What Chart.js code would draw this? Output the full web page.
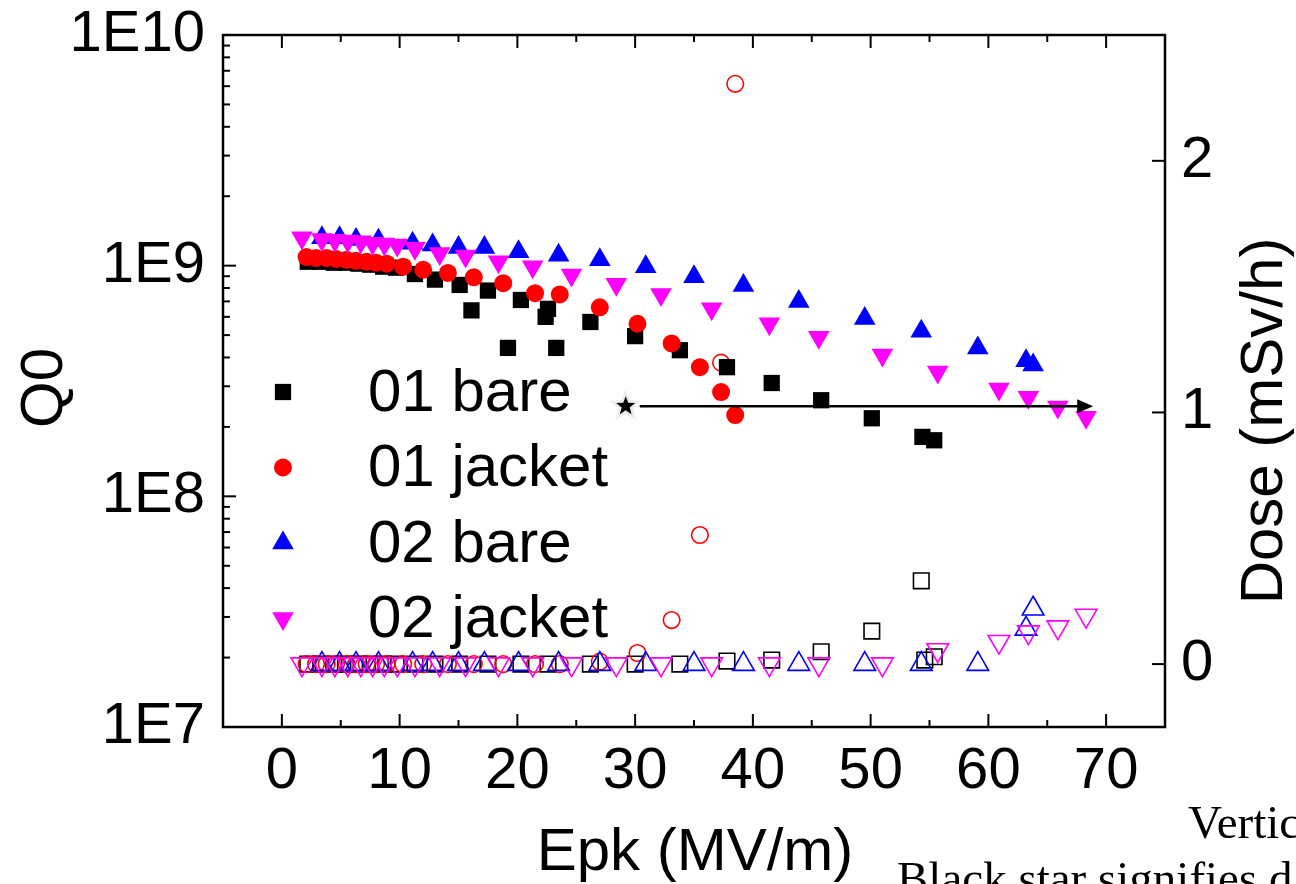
<!DOCTYPE html>
<html lang="en">

<head>
    <meta charset="UTF-8">
    <title>Q0 and Dose vs Epk</title>
    <style>
        html,
        body {
            margin: 0;
            padding: 0;
            background: #fff;
            overflow: hidden;
        }

        .container {
            position: relative;
            width: 1296px;
            height: 884px;
        }
    </style>
    <script src="https://cdn.jsdelivr.net/npm/chart.js"></script>
</head>

<body>
    <div class="container">
        <canvas id="myChart"></canvas>
    </div>

    <script>
        // Q0 curves (left axis, log)
        const bare01Epk = [2.2, 3.3, 4.4, 5.4, 6.5, 7.5, 8.6, 9.7, 11.3, 13.0, 15.1, 16.1, 17.5, 19.2, 20.3, 22.4, 22.6, 23.3, 26.2, 30.0, 33.8, 37.8, 41.6, 45.8, 50.1, 54.4, 55.4];
        const bare01Q0 = [1.04e9, 1.04e9, 1.03e9, 1.03e9, 1.02e9, 1.01e9, 9.9e8, 9.8e8, 9.2e8, 8.7e8, 8.25e8, 6.4e8, 7.8e8, 4.4e8, 7.1e8, 6.0e8, 6.5e8, 4.4e8, 5.7e8, 4.95e8, 4.3e8, 3.63e8, 3.1e8, 2.61e8, 2.18e8, 1.81e8, 1.75e8];

        const jacket01Epk = [2.1, 2.9, 3.8, 4.6, 5.5, 6.3, 7.2, 8.0, 8.9, 10.3, 12.0, 14.1, 16.3, 18.8, 21.5, 23.6, 27.0, 30.2, 33.1, 35.5, 37.3, 38.5];
        const jacket01Q0 = [1.09e9, 1.08e9, 1.08e9, 1.07e9, 1.06e9, 1.05e9, 1.04e9, 1.03e9, 1.02e9, 9.9e8, 9.6e8, 9.3e8, 8.9e8, 8.4e8, 7.6e8, 7.5e8, 6.6e8, 5.6e8, 4.6e8, 3.63e8, 2.83e8, 2.25e8];

        const bare02Epk = [3.4, 4.9, 6.3, 8.2, 11.1, 12.8, 15.0, 17.2, 20.1, 23.5, 27.0, 30.9, 35.0, 39.2, 43.9, 49.5, 54.3, 59.1, 63.2, 63.8];
        const bare02Q0 = [1.32e9, 1.32e9, 1.30e9, 1.29e9, 1.25e9, 1.23e9, 1.20e9, 1.20e9, 1.15e9, 1.11e9, 1.06e9, 9.9e8, 8.95e8, 8.2e8, 7.0e8, 5.9e8, 5.2e8, 4.4e8, 3.87e8, 3.71e8];

        const jacket02Epk = [1.7, 3.4, 4.5, 5.6, 6.7, 7.7, 8.7, 9.8, 11.3, 13.4, 15.6, 18.4, 21.3, 24.6, 28.4, 32.2, 36.5, 41.4, 45.6, 51.0, 55.7, 60.9, 63.4, 65.9, 68.3];
        const jacket02Q0 = [1.32e9, 1.30e9, 1.29e9, 1.28e9, 1.27e9, 1.25e9, 1.24e9, 1.23e9, 1.19e9, 1.13e9, 1.10e9, 1.04e9, 9.9e8, 9.1e8, 8.3e8, 7.5e8, 6.5e8, 5.6e8, 4.9e8, 4.1e8, 3.46e8, 2.92e8, 2.69e8, 2.44e8, 2.20e8];

        // Dose curves (right axis, open markers)
        const bare01DoseEpk = [2.2, 3.3, 4.4, 5.4, 6.5, 7.5, 8.6, 9.7, 11.3, 13.0, 15.1, 17.5, 20.3, 22.6, 26.2, 30.0, 33.8, 37.8, 41.6, 45.8, 50.1, 54.3, 54.6, 55.4];
        const bare01Dose = [0, 0, 0, 0, 0, 0, 0, 0, 0, 0, 0, 0, 0, 0, 0, 0, 0, 0.012, 0.016, 0.049, 0.131, 0.331, 0.016, 0.029];

        const jacket01DoseEpk = jacket01Epk;
        const jacket01Dose = [0, 0, 0, 0, 0, 0, 0, 0, 0, 0, 0, 0, 0, 0, 0, 0, 0.01, 0.044, 0.175, 0.513, 1.198, 2.306];

        const bare02DoseEpk = bare02Epk;
        const bare02Dose = [0, 0, 0, 0, 0, 0, 0, 0, 0, 0, 0, 0, 0, 0, 0, 0, 0, 0, 0.14, 0.22];

        const jacket02DoseEpk = jacket02Epk;
        const jacket02Dose = [0, 0, 0, 0, 0, 0, 0, 0, 0, 0, 0, 0, 0, 0, 0, 0, 0, 0, 0, 0, 0.056, 0.089, 0.127, 0.147, 0.193];

        // star + arrow annotation (Epk, dose)
        const starEpk = 29.2;
        const starDose = 1.025;
        const arrowEndEpk = 68.9;

        // axis ticks
        const xTicks = [0, 10, 20, 30, 40, 50, 60, 70];
        const xMinorTicks = [5, 15, 25, 35, 45, 55, 65];
        const q0Ticks = [1e7, 1e8, 1e9, 1e10];
        const doseTicks = [0, 1, 2];

        const labels = ['01 bare', '01 jacket', '02 bare', '02 jacket'];

        const FONT = "Arial, 'Liberation Sans', sans-serif";
        Chart.defaults.font.family = FONT;
        Chart.defaults.color = '#000';

        function toPoints(xs, ys) {
            return xs.map((x, i) => ({ x: x, y: ys[i] }));
        }

        function filled(label, xs, ys, color, style, radius, rotation, order) {
            return {
                label: label,
                data: toPoints(xs, ys),
                yAxisID: 'y',
                pointStyle: style,
                rotation: rotation,
                pointRadius: radius,
                backgroundColor: color,
                borderColor: color,
                borderWidth: 0,
                showLine: false,
                order: order
            };
        }

        function open(xs, ys, color, style, radius, rotation, order) {
            return {
                label: '',
                data: toPoints(xs, ys),
                yAxisID: 'y2',
                pointStyle: style,
                rotation: rotation,
                pointRadius: radius,
                backgroundColor: 'rgba(0,0,0,0)',
                borderColor: color,
                borderWidth: 1.6,
                showLine: false,
                order: order
            };
        }

        const datasets = [
            filled(labels[0], bare01Epk, bare01Q0, '#000000', 'rect', 11.5, 0, 4),
            filled(labels[1], jacket01Epk, jacket01Q0, '#ff0000', 'circle', 9, 0, 3),
            filled(labels[2], bare02Epk, bare02Q0, '#0000ff', 'triangle', 12.5, 0, 2),
            filled(labels[3], jacket02Epk, jacket02Q0, '#ff00ff', 'triangle', 12.5, 180, 1),
            open(bare01DoseEpk, bare01Dose, '#000000', 'rect', 11, 0, 8),
            open(jacket01DoseEpk, jacket01Dose, '#ff0000', 'circle', 8.3, 0, 7),
            open(bare02DoseEpk, bare02Dose, '#0000ff', 'triangle', 12.5, 0, 6),
            open(jacket02DoseEpk, jacket02Dose, '#ff00ff', 'triangle', 12.5, 180, 5)
        ];

        function line(ctx, x1, y1, x2, y2) {
            ctx.beginPath();
            ctx.moveTo(x1, y1);
            ctx.lineTo(x2, y2);
            ctx.stroke();
        }

        function starPath(ctx, cx, cy, rOut, rIn) {
            ctx.beginPath();
            for (let i = 0; i < 10; i++) {
                const r = i % 2 === 0 ? rOut : rIn;
                const a = -Math.PI / 2 + i * Math.PI / 5;
                const px = cx + r * Math.cos(a);
                const py = cy + r * Math.sin(a);
                if (i === 0) ctx.moveTo(px, py); else ctx.lineTo(px, py);
            }
            ctx.closePath();
        }

        // keep tick labels from pushing the plot area around
        function fixPadding(s) {
            s.paddingTop = 0;
            s.paddingBottom = 0;
            s.paddingLeft = 0;
            s.paddingRight = 0;
        }

        const extras = {
            id: 'extras',
            afterDatasetsDraw(chart) {
                const { ctx, chartArea: a, scales } = chart;
                const xs = scales.x, ys = scales.y, ds = scales.y2;
                ctx.save();
                ctx.strokeStyle = '#000';
                ctx.fillStyle = '#000';

                // frame
                ctx.lineWidth = 2.5;
                ctx.strokeRect(a.left, a.top, a.right - a.left, a.bottom - a.top);

                // inward ticks
                ctx.lineWidth = 2;
                xTicks.forEach(v => {
                    const px = xs.getPixelForValue(v);
                    line(ctx, px, a.bottom, px, a.bottom - 13);
                    line(ctx, px, a.top, px, a.top + 13);
                });
                xMinorTicks.forEach(v => {
                    const px = xs.getPixelForValue(v);
                    line(ctx, px, a.bottom, px, a.bottom - 7);
                    line(ctx, px, a.top, px, a.top + 7);
                });
                q0Ticks.forEach(v => {
                    const py = ys.getPixelForValue(v);
                    line(ctx, a.left, py, a.left + 13, py);
                });
                q0Ticks.slice(0, -1).forEach(d => {
                    for (let m = 2; m <= 9; m++) {
                        const py = ys.getPixelForValue(d * m);
                        line(ctx, a.left, py, a.left + 7, py);
                    }
                });
                doseTicks.forEach(v => {
                    const py = ds.getPixelForValue(v);
                    line(ctx, a.right, py, a.right - 13, py);
                });

                // arrow from the star
                const sx = xs.getPixelForValue(starEpk);
                const sy = ds.getPixelForValue(starDose);
                const ex = xs.getPixelForValue(arrowEndEpk);
                ctx.lineWidth = 2.5;
                line(ctx, sx + 14, sy, ex - 12, sy);
                ctx.beginPath();
                ctx.moveTo(ex, sy);
                ctx.lineTo(ex - 16, sy - 7);
                ctx.lineTo(ex - 16, sy + 7);
                ctx.closePath();
                ctx.fill();
                ctx.fillStyle = '#ececec';
                starPath(ctx, sx, sy, 17, 7.5);
                ctx.fill();
                ctx.fillStyle = '#000';
                starPath(ctx, sx, sy, 10, 4.2);
                ctx.fill();

                // legend
                const lx = 283, ly = [392, 467.5, 543, 618.5];
                chart.data.datasets.slice(0, 4).forEach((d, i) => {
                    ctx.fillStyle = d.backgroundColor;
                    Chart.helpers.drawPoint(ctx, {
                        pointStyle: d.pointStyle,
                        rotation: d.rotation,
                        radius: d.pointRadius,
                        borderWidth: 0
                    }, lx, ly[i]);
                    ctx.fillStyle = '#000';
                    ctx.font = '60px ' + FONT;
                    ctx.textAlign = 'left';
                    ctx.textBaseline = 'middle';
                    ctx.fillText(d.label, 368, ly[i] + 2);
                });

                // axis titles
                ctx.font = '60px ' + FONT;
                ctx.textBaseline = 'alphabetic';
                ctx.textAlign = 'center';
                ctx.fillText('Epk (MV/m)', 695, 870);
                ctx.save();
                ctx.translate(62, 388);
                ctx.rotate(-Math.PI / 2);
                ctx.fillText('Q0', 0, 0);
                ctx.restore();
                ctx.save();
                ctx.translate(1282, 421);
                ctx.rotate(-Math.PI / 2);
                ctx.fillText('Dose (mSv/h)', 0, 0);
                ctx.restore();

                // caption fragments from the page below
                ctx.font = "47px 'Liberation Serif', 'Times New Roman', serif";
                ctx.textAlign = 'left';
                ctx.fillText('Vertic', 1188, 838);
                ctx.fillText('Black star signifies d', 897, 894);

                ctx.restore();
            }
        };

        const ctx = document.getElementById('myChart').getContext('2d');
        const chart = new Chart(ctx, {
            type: 'scatter',
            data: { datasets: datasets },
            options: {
                responsive: true,
                maintainAspectRatio: false,
                animation: false,
                events: [],
                layout: { padding: { top: 35, left: 0, right: 0, bottom: 0 } },
                plugins: {
                    legend: { display: false },
                    tooltip: { enabled: false }
                },
                scales: {
                    x: {
                        type: 'linear',
                        position: 'bottom',
                        min: -5,
                        max: 75,
                        grid: { display: false, drawTicks: false },
                        border: { display: false },
                        ticks: { font: { size: 58 }, padding: 10, maxRotation: 0 },
                        afterBuildTicks: s => { s.ticks = xTicks.map(v => ({ value: v })); },
                        afterFit: s => { s.height = 157; fixPadding(s); }
                    },
                    y: {
                        type: 'logarithmic',
                        position: 'left',
                        min: 1e7,
                        max: 1e10,
                        grid: { display: false, drawTicks: false },
                        border: { display: false },
                        ticks: {
                            font: { size: 58 },
                            padding: 18,
                            callback: v => '1E' + Math.round(Math.log10(v))
                        },
                        afterBuildTicks: s => { s.ticks = q0Ticks.map(v => ({ value: v })); },
                        afterFit: s => { s.width = 223; fixPadding(s); }
                    },
                    y2: {
                        type: 'linear',
                        position: 'right',
                        min: -0.25,
                        max: 2.5,
                        grid: { display: false, drawTicks: false },
                        border: { display: false },
                        ticks: { font: { size: 58 }, padding: 16 },
                        afterBuildTicks: s => { s.ticks = doseTicks.map(v => ({ value: v })); },
                        afterFit: s => { s.width = 131; fixPadding(s); }
                    }
                }
            },
            plugins: [extras]
        });
    </script>
</body>

</html>
